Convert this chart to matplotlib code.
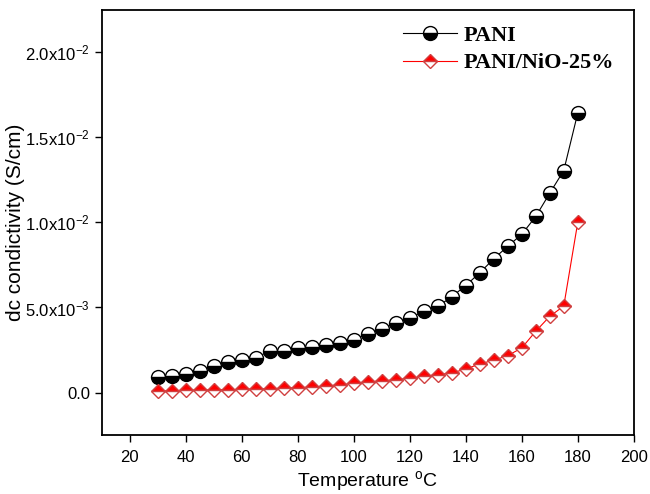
import numpy as np
import matplotlib.pyplot as plt
from matplotlib.ticker import FuncFormatter, MultipleLocator

#--------------------------------------------
# data
temperature = [30, 35, 40, 45, 50, 55, 60, 65, 70, 75, 80, 85, 90, 95, 100,
               105, 110, 115, 120, 125, 130, 135, 140, 145, 150, 155, 160,
               165, 170, 175, 180]
# PANI, in units of 1e-3 S/cm
pani = [0.90, 0.98, 1.08, 1.28, 1.58, 1.80, 1.93, 2.05, 2.43, 2.46, 2.63,
        2.70, 2.79, 2.90, 3.11, 3.45, 3.71, 4.10, 4.36, 4.79, 5.06, 5.63,
        6.29, 7.04, 7.86, 8.60, 9.30, 10.35, 11.72, 13.05, 16.43]
# PANI/NiO-25%, in units of 1e-3 S/cm
pani_nio = [0.08, 0.10, 0.12, 0.13, 0.15, 0.16, 0.18, 0.20, 0.22, 0.25,
            0.28, 0.32, 0.38, 0.45, 0.55, 0.62, 0.68, 0.75, 0.85, 0.95,
            1.05, 1.15, 1.38, 1.68, 1.90, 2.17, 2.62, 3.60, 4.48, 5.08,
            10.0]
series_names = ["PANI", "PANI/NiO-25%"]

pani = np.array(pani) * 1e-3
pani_nio = np.array(pani_nio) * 1e-3

#--------------------------------------------
# Plot
plt.rcParams['font.family'] = ['Liberation Sans', 'DejaVu Sans']
fig = plt.figure(figsize=(6.5, 4.94), dpi=100)
ax = fig.add_axes([0.1565, 0.1194, 0.8185, 0.8606])

ax.plot(temperature, pani, color='black', lw=0.8, marker='o',
        markersize=10, fillstyle='bottom', markerfacecolor='black',
        markerfacecoloralt='white', markeredgecolor='black',
        markeredgewidth=1.0, label=series_names[0])
ax.plot(temperature, pani_nio, color='red', lw=0.8, marker='D',
        markersize=7.5, fillstyle='top', markerfacecolor='red',
        markerfacecoloralt='white', markeredgecolor='#d04040',
        markeredgewidth=1.0, label=series_names[1])

ax.set_xlim(10, 200)
ax.set_ylim(-0.0025, 0.0225)
ax.xaxis.set_major_locator(MultipleLocator(20))
ax.yaxis.set_major_locator(MultipleLocator(0.005))

def sci_fmt(v, pos):
    if abs(v) < 1e-12:
        return "0.0"
    exp = int(np.floor(np.log10(abs(v))))
    mant = v / 10**exp
    return r"$\mathregular{%.1fx10^{%d}}$" % (mant, exp)

ax.yaxis.set_major_formatter(FuncFormatter(sci_fmt))
ax.tick_params(direction='out', length=5, width=1.0, labelsize=12,
               top=False, right=False, colors='black')
ax.tick_params(axis='x', pad=6)
for sp in ax.spines.values():
    sp.set_linewidth(1.3)

ax.set_xlabel(r"Temperature $\mathregular{^{o}}$C", fontsize=14, labelpad=3)
ax.set_ylabel("dc condictivity (S/cm)", fontsize=15, labelpad=0)

ax.legend(loc='upper right', frameon=False, handlelength=2.4,
          handletextpad=0.3, labelspacing=0.3,
          bbox_to_anchor=(1.0, 1.01),
          prop={'family': 'Liberation Serif', 'weight': 'bold', 'size': 16})

fig.savefig("out.png", dpi=100)
